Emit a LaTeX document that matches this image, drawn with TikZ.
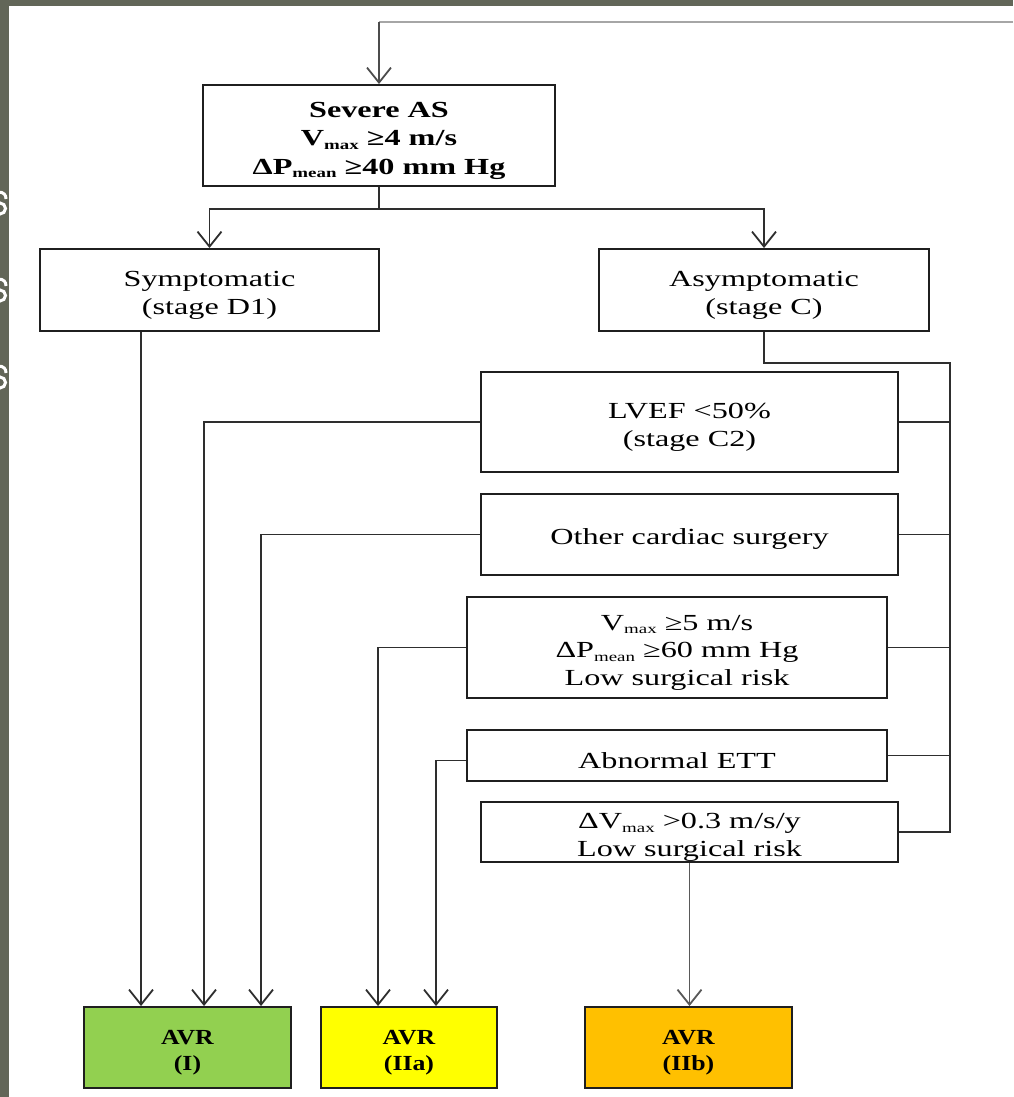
\documentclass[tikz,border=0pt]{standalone}
\usepackage{fontspec}
\setmainfont[FakeStretch=1.4]{Liberation Serif}
\newfontfamily\avrfont[FakeStretch=1.2]{Liberation Serif}
\usetikzlibrary{arrows.meta,calc}
\definecolor{slidegrey}{RGB}{98,102,88}
\definecolor{avrgreen}{RGB}{146,208,80}
\definecolor{avryellow}{RGB}{255,255,0}
\definecolor{avrorange}{RGB}{255,192,0}
% small lowered text for subscripts such as "max" and "mean"
\newcommand\lowtxt[1]{\raisebox{-0.35ex}{\fontsize{13.5}{13.5}\selectfont #1}}
% invisible strut on the first line, sets how low the text sits in its box
\newcommand\topstrut{\rule{0pt}{25.5pt}}

\begin{document}
\begin{tikzpicture}[x=1pt,y=-1pt,
  box/.style={draw=black!88, line width=1.9pt, rectangle, inner sep=0pt,
              align=center, fill=white, font=\fontsize{23}{27.5}\selectfont},
  boldbox/.style={box, font=\bfseries\fontsize{23}{28.5}\selectfont},
  avr/.style={box, font=\avrfont\bfseries\fontsize{21.5}{26}\selectfont,
              minimum height=81pt},
  link/.style={draw=black!82, line width=1.8pt},
  tip/.style={link, -{Straight Barb[length=15pt,width=24pt]}}]

\useasboundingbox (0,0) rectangle (1013,1097);
\fill[white] (0,0) rectangle (1013,1097);

% slide frame strips
\fill[slidegrey] (0,0) rectangle (8.5,1097);
\fill[slidegrey] (0,0) rectangle (1013,6);
\begin{scope}
  \clip (0,0) rectangle (8.5,1097);
  \foreach \t in {191,278,365} {
    \draw[white, line width=3pt] (-2,\t+1) .. controls (4,\t+1) and (6,\t+4) .. (6,\t+8);
    \draw[white, line width=3pt] (0,\t+17.5) circle[radius=5.5];
  }
\end{scope}

% boxes
\node[boldbox, minimum width=352pt, minimum height=101pt] (sev) at (379,135.5)
  {\topstrut Severe AS\\ V\lowtxt{max} ≥4 m/s\\ ΔP\lowtxt{mean} ≥40 mm Hg};
\node[box, minimum width=339pt, minimum height=82pt] (sym) at (209.5,290)
  {\topstrut Symptomatic\\ (stage D1)};
\node[box, minimum width=330pt, minimum height=82pt] (asy) at (764,290)
  {\topstrut Asymptomatic\\ (stage C)};
\node[box, minimum width=417pt, minimum height=100pt] (lvef) at (689.5,422)
  {\topstrut LVEF <50\%\\ (stage C2)};
\node[box, minimum width=417pt, minimum height=81pt] (oth) at (689.5,534.5)
  {\topstrut Other cardiac surgery};
\node[box, minimum width=420pt, minimum height=101pt] (v5) at (677,647.5)
  {\topstrut V\lowtxt{max} ≥5 m/s\\ ΔP\lowtxt{mean} ≥60 mm Hg\\ Low surgical risk};
\node[box, minimum width=420pt, minimum height=51pt] (ett) at (677,755.5)
  {\topstrut Abnormal ETT};
\node[box, minimum width=417pt, minimum height=60pt] (dv) at (689.5,832)
  {\topstrut ΔV\lowtxt{max} >0.3 m/s/y\\ Low surgical risk};
\node[avr, fill=avrgreen, minimum width=207pt] (a1) at (187.5,1047.5) {\topstrut AVR\\ (I)};
\node[avr, fill=avryellow, minimum width=176pt] (a2) at (409,1047.5) {\topstrut AVR\\ (IIa)};
\node[avr, fill=avrorange, minimum width=207pt] (a3) at (688.5,1047.5) {\topstrut AVR\\ (IIb)};

% incoming line at the top
\coordinate (feed) at (1013,22);
\draw[draw=black!35, line width=1.8pt] (feed) -- (feed -| sev.north);
\draw[tip, draw=black!70] (feed -| sev.north) -- (sev.north);

% split into symptomatic / asymptomatic
\draw[link] (sev.south) -- ++(0,22) coordinate (split);
\draw[tip] (split) -| (sym.north);
\draw[tip] (split) -| (asy.north);

% collecting line on the right
\coordinate (bustop) at (950,363);
\draw[link] (asy.south) |- (bustop) -- (bustop |- dv.east) -- (dv.east);
\foreach \n in {lvef,oth,v5,ett}
  \draw[link] (\n.east) -- (\n.east -| bustop);

% routes to the recommendations
\draw[tip] ([xshift=-68.5pt]sym.south) -- ([xshift=-46.5pt]a1.north);
\draw[tip] (lvef.west) -| ([xshift=16.5pt]a1.north);
\draw[tip] (oth.west) -| ([xshift=73.5pt]a1.north);
\draw[tip] (v5.west) -| ([xshift=-31pt]a2.north);
\draw[tip] ([yshift=-5pt]ett.west) -| ([xshift=27pt]a2.north);
\draw[tip, draw=black!65] (dv.south) -- (dv.south |- a3.north);
\end{tikzpicture}
\end{document}
